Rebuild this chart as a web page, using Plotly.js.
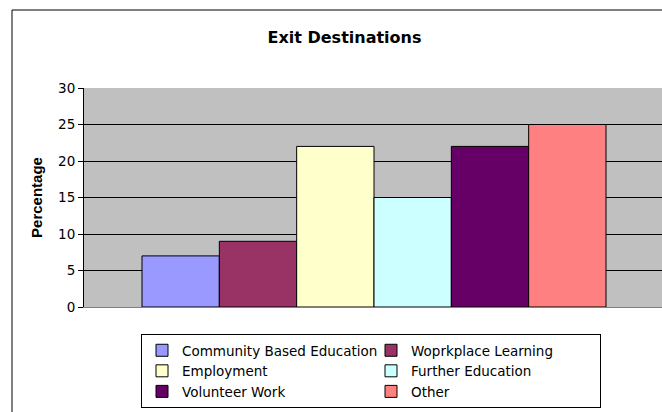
<!DOCTYPE html>
<html>
<head>
<meta charset="utf-8">
<script src="https://cdn.plot.ly/plotly-3.0.1.min.js"></script>
<style>html,body{margin:0;padding:0;background:#fff;overflow:hidden;}#chart{width:662px;height:412px;}</style>
</head>
<body>
<div id="chart"></div>
<script>
const categories = ['Community Based Education', 'Woprkplace Learning', 'Employment', 'Further Education', 'Volunteer Work', 'Other'];
const values = [7, 9, 22, 15, 22, 25];
const groupLabel = ['Exit Destinations'];
const yTicks = [0, 5, 10, 15, 20, 25, 30];
const chartTitle = 'Exit Destinations';
const yTitle = 'Percentage';

const colors = ['#9999FF', '#993366', '#FFFFCC', '#CCFFFF', '#660066', '#FF8080'];

const traces = categories.map((name, i) => ({
  type: 'bar',
  name: name,
  x: groupLabel,
  y: [values[i]],
  marker: {color: colors[i], line: {color: '#000000', width: 1}},
  hoverinfo: 'name+y'
}));

const W = 662, H = 412;
const L = 84, R = 662, T = 88, B = 307;
const pw = R - L, ph = B - T;
const px = x => (x - L) / pw;
const py = y => (B - y) / ph;

const layout = {
  width: W, height: H,
  margin: {l: L, r: W - R, t: T, b: H - B, pad: 0},
  paper_bgcolor: '#ffffff',
  plot_bgcolor: '#C0C0C0',
  font: {family: 'DejaVu Sans, Arial, sans-serif', color: '#000000'},
  title: {
    text: '<b>' + chartTitle + '</b>',
    font: {family: 'DejaVu Sans, Arial, sans-serif', size: 16, color: '#000'},
    xref: 'paper', x: px(344.5), xanchor: 'center',
    yref: 'container', y: 1 - 37 / H, yanchor: 'middle'
  },
  barmode: 'group',
  bargap: 0.2,
  bargroupgap: 0,
  xaxis: {
    type: 'category',
    range: [-0.5, 0.5 - 2 / 580],
    showticklabels: false,
    ticks: '',
    showgrid: false,
    showline: true, linecolor: '#808080', linewidth: 1,
    zeroline: false, fixedrange: true
  },
  yaxis: {
    range: [0, 30],
    tickvals: yTicks,
    ticktext: yTicks.map(String),
    ticks: 'outside', ticklen: 5, tickcolor: '#000', tickwidth: 1,
    tickfont: {family: 'DejaVu Sans, Arial, sans-serif', size: 13.5, color: '#000'},
    showline: true, linecolor: '#000', linewidth: 1,
    showgrid: true, gridcolor: '#000', gridwidth: 1,
    zeroline: false, fixedrange: true,
    title: {text: '<b>' + yTitle + '</b>', font: {family: 'Liberation Sans, Arial, sans-serif', size: 15, color: '#000'}, standoff: 11}
  },
  showlegend: true,
  legend: {
    orientation: 'h',
    x: px(141), xanchor: 'left',
    y: py(334), yanchor: 'top',
    bgcolor: '#ffffff', bordercolor: '#000000', borderwidth: 1,
    font: {family: 'DejaVu Sans, Arial, sans-serif', size: 13.5, color: '#000'},
    entrywidth: 184, entrywidthmode: 'pixels',
    traceorder: 'normal'
  },
  shapes: [{
    type: 'rect', xref: 'paper', yref: 'paper',
    x0: px(12), x1: px(700), y0: py(450), y1: py(10),
    line: {color: '#000', width: 1}, fillcolor: 'rgba(0,0,0,0)', layer: 'above'
  }]
};

Plotly.newPlot('chart', traces, layout, {displayModeBar: false, staticPlot: true});
</script>
</body>
</html>
